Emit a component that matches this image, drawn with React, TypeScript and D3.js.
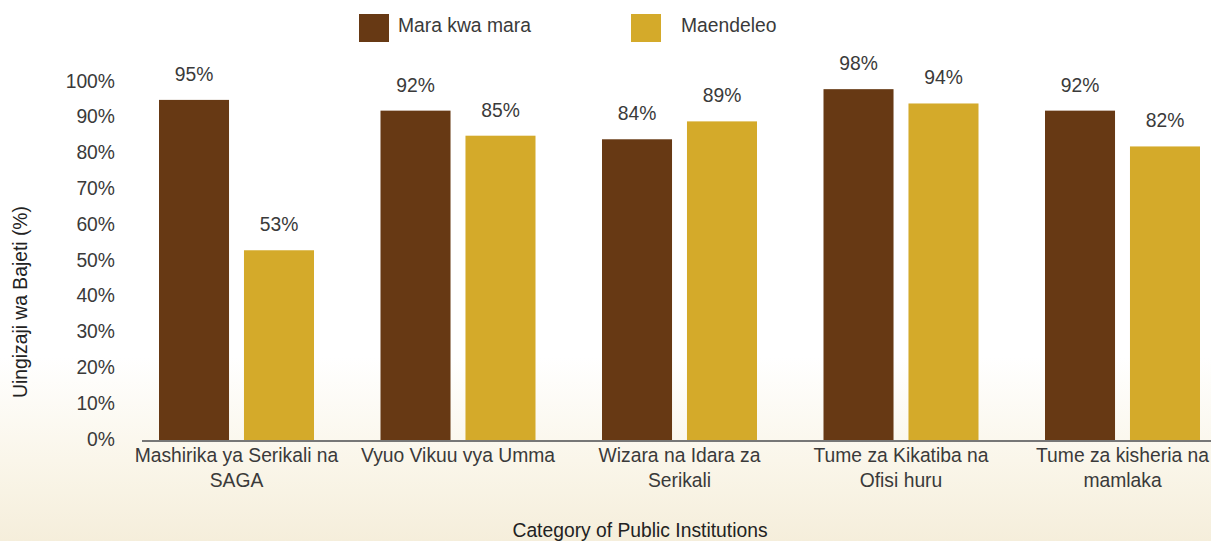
import React from "react";
import * as d3 from "d3";

const categories: string[][] = [
  ["Mashirika ya Serikali na", "SAGA"],
  ["Vyuo Vikuu vya Umma"],
  ["Wizara na Idara za", "Serikali"],
  ["Tume za Kikatiba na", "Ofisi huru"],
  ["Tume za kisheria na", "mamlaka"],
];
const seriesNames = ["Mara kwa mara", "Maendeleo"];
const maraKwaMara = [95, 92, 84, 98, 92];
const maendeleo = [53, 85, 89, 94, 82];
const yTicks = [0, 10, 20, 30, 40, 50, 60, 70, 80, 90, 100];
const colors = ["#673914", "#D4AA2A"];

const W = 1211;
const H = 541;
const FONT = "'Liberation Sans', Arial, sans-serif";
const FS = 19.3;

export default function App() {
  const y = d3.scaleLinear().domain([0, 100]).range([440, 82]);
  const keys = categories.map((c) => c.join(" "));
  const x0 = d3.scaleBand<string>().domain(keys).range([125.75, 1233.25]).padding(0);
  const inner = 155;
  const x1 = d3
    .scaleBand<number>()
    .domain([0, 1])
    .range([0, inner])
    .paddingInner(0.176)
    .paddingOuter(0);
  const off = (x0.bandwidth() - inner) / 2;
  const series = [maraKwaMara, maendeleo];

  return (
    <svg
      width={W}
      height={H}
      style={{ display: "block", position: "absolute", left: 0, top: 0 }}
    >
      <defs>
        <linearGradient id="bg" x1="0" y1="0" x2="0" y2="1">
          <stop offset="0" stopColor="#ffffff" />
          <stop offset="0.66" stopColor="#ffffff" />
          <stop offset="0.85" stopColor="#faf6ea" />
          <stop offset="1" stopColor="#f5eedb" />
        </linearGradient>
      </defs>
      <rect x={0} y={0} width={W} height={H} fill="url(#bg)" />

      {/* y ticks */}
      {yTicks.map((t) => (
        <text
          key={t}
          x={115}
          y={y(t) - 1}
          textAnchor="end"
          dominantBaseline="central"
          fontFamily={FONT}
          fontSize={FS}
          fill="#3a3a3a"
        >
          {t}%
        </text>
      ))}

      {/* bars */}
      {keys.map((k, i) =>
        series.map((s, j) => {
          const bx = (x0(k) as number) + off + (x1(j) as number);
          const by = y(s[i]);
          return (
            <g key={k + j}>
              <rect x={bx} y={by} width={x1.bandwidth()} height={y(0) - by} fill={colors[j]} />
              <text
                x={bx + x1.bandwidth() / 2}
                y={by - 19}
                textAnchor="middle"
                fontFamily={FONT}
                fontSize={FS}
                fill="#3a3a3a"
              >
                {s[i]}%
              </text>
            </g>
          );
        })
      )}

      {/* axis line */}
      <line x1={142} x2={W} y1={441} y2={441} stroke="#777" strokeWidth={2} />

      {/* category labels */}
      {categories.map((lines, i) => {
        const cx = (x0(keys[i]) as number) + x0.bandwidth() / 2;
        return (
          <text key={i} textAnchor="middle" fontFamily={FONT} fontSize={FS} fill="#3a3a3a">
            {lines.map((l, li) => (
              <tspan key={li} x={cx} y={462 + li * 25}>
                {l}
              </tspan>
            ))}
          </text>
        );
      })}

      {/* axis titles */}
      <text
        x={640}
        y={537}
        textAnchor="middle"
        fontFamily={FONT}
        fontSize={FS}
        fill="#222"
      >
        Category of Public Institutions
      </text>
      <text
        transform={`translate(27,302) rotate(-90)`}
        textAnchor="middle"
        fontFamily={FONT}
        fontSize={FS}
        fill="#222"
      >
        Uingizaji wa Bajeti (%)
      </text>

      {/* legend */}
      {seriesNames.map((n, j) => {
        const lx = [359, 631][j];
        const tx = [398, 681][j];
        return (
          <g key={n}>
            <rect x={lx} y={14} width={30} height={28} fill={colors[j]} />
            <text x={tx} y={32} fontFamily={FONT} fontSize={FS} fill="#3a3a3a">
              {n}
            </text>
          </g>
        );
      })}
    </svg>
  );
}
